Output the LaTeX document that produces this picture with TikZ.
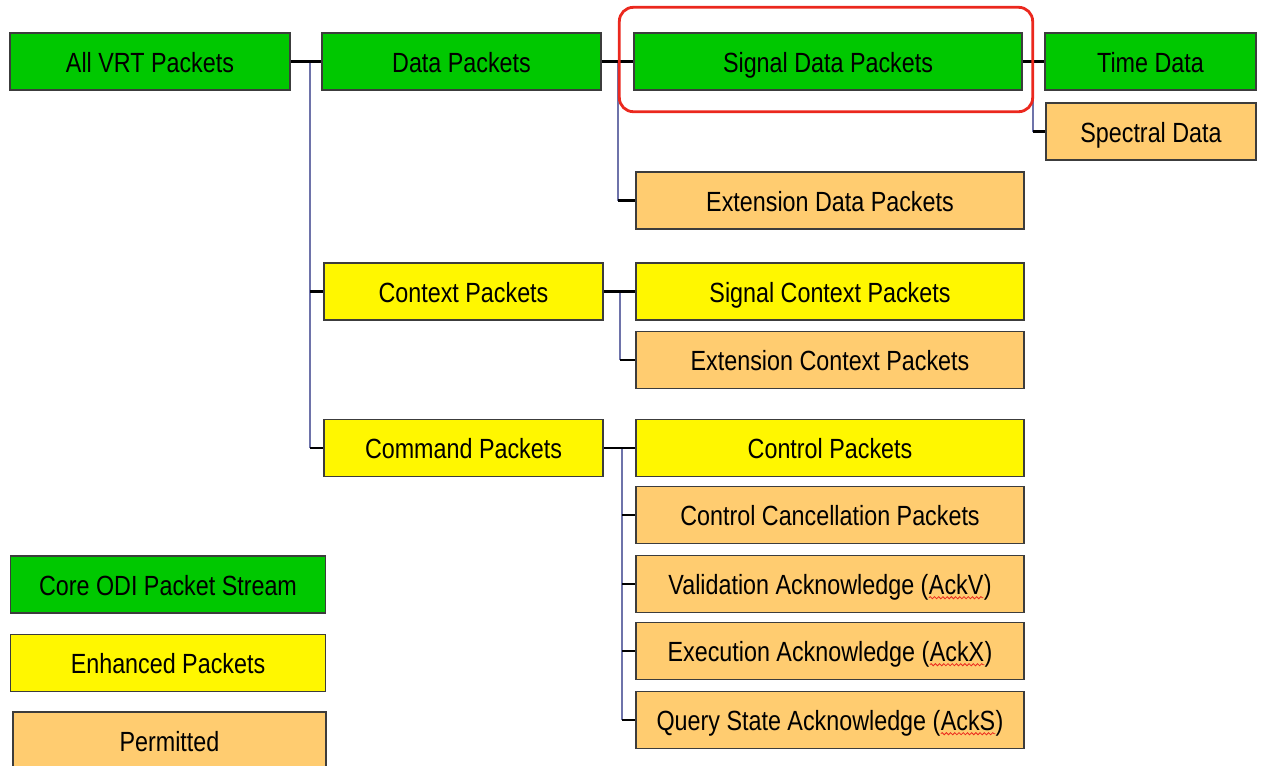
\documentclass[tikz,border=0pt]{standalone}
\usepackage{fontspec}
\setmainfont{Liberation Sans}[FakeStretch=0.84]
\usetikzlibrary{calc,decorations.pathmorphing}

\definecolor{coregreen}{RGB}{0,200,0}
\definecolor{enhyellow}{RGB}{255,247,0}
\definecolor{permorange}{RGB}{255,204,112}
\definecolor{boxline}{RGB}{60,60,60}
\definecolor{trunkblue}{RGB}{110,115,170}
\definecolor{hired}{RGB}{235,40,30}

\tikzset{
  pbox/.style={draw=boxline,line width=0.8pt,minimum height=1.14cm,inner sep=0pt,
    text height=12pt,text depth=0pt,font=\fontsize{15.8}{18}\selectfont},
  core/.style={pbox,fill=coregreen},
  enh/.style={pbox,fill=enhyellow},
  perm/.style={pbox,fill=permorange},
  link/.style={draw=black,line width=1.3pt},
  trunk/.style={draw=trunkblue,line width=1.3pt},
  squiggle/.style={draw=hired,line width=0.45pt,decorate,
    decoration={snake,amplitude=0.6pt,segment length=2.4pt}}
}
\newcommand{\spellmark}[1]{\tikz[baseline=(w.base),x=1cm,y=1cm]{%
  \node[draw=none,fill=none,inner sep=0pt,outer sep=0pt,minimum width=0pt,minimum height=0pt,
    text height=,text depth=] (w) {#1};
  \draw[squiggle] ([yshift=-1.8pt]w.base west) -- ([yshift=-1.8pt]w.base east);}}

\begin{document}
\begin{tikzpicture}[x=0.02cm,y=-0.02cm]
        \useasboundingbox (0,0) rectangle (1261,765);

        % tree boxes
        \node[core,minimum width=5.6cm]  (vrt)    at (150,61.5)  {All VRT Packets};
        \node[core,minimum width=5.58cm] (data)   at (461.5,61.5) {Data Packets};
        \node[core,minimum width=7.76cm] (sig)    at (828,61.5)  {Signal Data Packets};
        \node[core,minimum width=4.22cm] (time)   at (1150.5,61.5) {Time Data};
        \node[perm,minimum width=4.2cm]  (spec)   at (1151,131.5) {Spectral Data};
        \node[perm,minimum width=7.76cm] (extd)   at (830,200.5) {Extension Data Packets};
        \node[enh,minimum width=5.58cm]  (ctx)    at (463.5,291.5) {Context Packets};
        \node[enh,minimum width=7.76cm]  (sigctx) at (830,291.5) {Signal Context Packets};
        \node[perm,minimum width=7.76cm] (extctx) at (830,360)   {Extension Context Packets};
        \node[enh,minimum width=5.58cm]  (cmd)    at (463.5,448) {Command Packets};
        \node[enh,minimum width=7.76cm]  (ctrl)   at (830,448)   {Control Packets};
        \node[perm,minimum width=7.76cm] (cancel) at (830,515)   {Control Cancellation Packets};
        \node[perm,minimum width=7.76cm] (valid)  at (830,584)   {Validation Acknowledge (\spellmark{AckV})};
        \node[perm,minimum width=7.76cm] (exec)   at (830,651)   {Execution Acknowledge (\spellmark{AckX})};
        \node[perm,minimum width=7.76cm] (query)  at (830,720)   {Query State Acknowledge (\spellmark{AckS})};

        % legend
        \node[core,minimum width=6.3cm]  (lcore) at (168,584.5) {Core ODI Packet Stream};
        \node[enh,minimum width=6.3cm]   (lenh)  at (168,663)   {Enhanced Packets};
        \node[perm,minimum width=6.26cm] (lperm) at (169.5,740.5) {Permitted};

        % junctions
        \coordinate (j1) at (310,61.5);
        \coordinate (j2) at (618,61.5);
        \coordinate (j3) at (1033,61.5);
        \coordinate (j4) at (620,291.5);
        \coordinate (j5) at (622,448);

        % vertical trunks
        \draw[trunk] (j1) -- (j1 |- cmd.west);
        \draw[trunk] (j2) -- (j2 |- extd.west);
        \draw[trunk] (j3) -- (j3 |- spec.west);
        \draw[trunk] (j4) -- (j4 |- extctx.west);
        \draw[trunk] (j5) -- (j5 |- query.west);

        % horizontal links
        \path[link] (vrt.east)  edge (data.west);
        \path[link] (data.east) edge (sig.west);
        \path[link] (sig.east)  edge (time.west);
        \path[link] (ctx.east)  edge (sigctx.west);
        \path[link] (cmd.east)  edge (ctrl.west);
        \path[link] (j1 |- ctx.west) edge (ctx.west);
        \path[link] (j1 |- cmd.west) edge (cmd.west);
        \path[link] (j2 |- extd.west) edge (extd.west);
        \path[link] (j3 |- spec.west) edge (spec.west);
        \path[link] (j4 |- extctx.west) edge (extctx.west);
        \foreach \n in {cancel,valid,exec,query}
          \path[link] (j5 |- \n.west) edge (\n.west);

        % highlight
        \draw[hired,line width=1.6pt,rounded corners=0.28cm]
          ($(sig.north west)+(-14,-25)$) rectangle ($(sig.south east)+(10,21)$);

\end{tikzpicture}
\end{document}
